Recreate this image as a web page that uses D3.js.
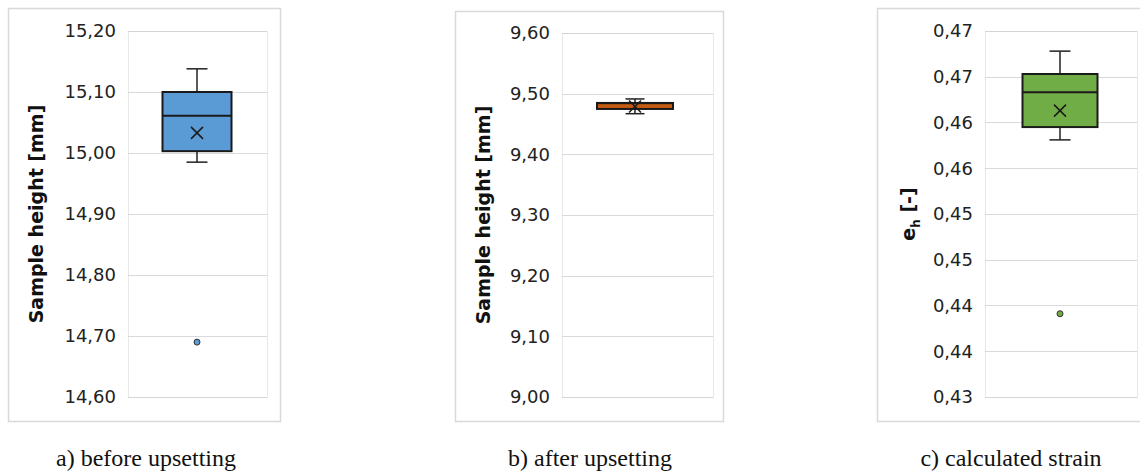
<!DOCTYPE html>
<html>
<head>
<meta charset="utf-8">
<script src="https://cdn.jsdelivr.net/npm/d3@7"></script>
<style>
  body { margin: 0; background: #fff; }
  svg { display: block; }
</style>
</head>
<body>
<div id="chart-area"></div>
<script>
// Data (one entry per panel)
let captions = ["a) before upsetting", "b) after upsetting", "c) calculated strain"];
let whiskerLow = [14.985, 9.467, 0.4581];
let q1 = [15.003, 9.4748, 0.4595];
let median = [15.061, 9.4835, 0.4633];
let q3 = [15.100, 9.4847, 0.4653];
let whiskerHigh = [15.138, 9.4913, 0.4678];
let means = [15.033, 9.479, 0.4613];
let outliers = [[14.690], [], [0.4391]];

let tickValues = [
  [14.6, 14.7, 14.8, 14.9, 15.0, 15.1, 15.2],
  [9.0, 9.1, 9.2, 9.3, 9.4, 9.5, 9.6],
  [0.43, 0.435, 0.44, 0.445, 0.45, 0.455, 0.46, 0.465, 0.47]
];
let tickLabels = [
  ["14,60", "14,70", "14,80", "14,90", "15,00", "15,10", "15,20"],
  ["9,00", "9,10", "9,20", "9,30", "9,40", "9,50", "9,60"],
  ["0,43", "0,44", "0,44", "0,45", "0,45", "0,46", "0,46", "0,47", "0,47"]
];
let colors = ["#5b9bd5", "#c55a11", "#70ad47"];

// Layout for each panel
let layout = [
  { frame: [8, 8, 272, 413], plot: [128, 31, 139, 366], cx: 197, bw: 69, cw: 21, title: "mm", tx: 36, ty: 214, cap: 146 },
  { frame: [455, 11, 268, 410], plot: [562, 33, 151, 364], cx: 635, bw: 76, cw: 19, title: "mm", tx: 483, ty: 215, cap: 590 },
  { frame: [877, 8, 280, 413], plot: [985, 31, 152, 366], cx: 1060, bw: 75, cw: 21, title: "eh", tx: 908, ty: 214, cap: 1011 }
];

let svg = d3
  .select("#chart-area")
  .append("svg")
  .attr("width", 1140)
  .attr("height", 473);

layout.forEach((L, i) => {
  let g = svg.append("g");

  // chart frame
  g.append("rect")
    .attr("x", L.frame[0] + 0.5)
    .attr("y", L.frame[1] + 0.5)
    .attr("width", L.frame[2])
    .attr("height", L.frame[3])
    .attr("fill", "#fff")
    .attr("stroke", "#d9d9d9")
    .attr("stroke-width", 1.5);

  let px = L.plot[0], py = L.plot[1], pw = L.plot[2], ph = L.plot[3];
  let tv = tickValues[i];

  let y = d3
    .scaleLinear()
    .domain([tv[0], tv[tv.length - 1]])
    .range([py + ph, py]);

  // gridlines
  g.selectAll(".grid")
    .data(tv)
    .enter()
    .append("line")
    .attr("x1", px)
    .attr("x2", px + pw)
    .attr("y1", d => Math.round(y(d)) + 0.5)
    .attr("y2", d => Math.round(y(d)) + 0.5)
    .attr("stroke", "#d9d9d9")
    .attr("stroke-width", 1.2);

  // plot area border (dotted)
  g.append("rect")
    .attr("x", px + 0.5)
    .attr("y", py + 0.5)
    .attr("width", pw)
    .attr("height", ph)
    .attr("fill", "none")
    .attr("stroke", "#d0d0d0")
    .attr("stroke-dasharray", "1,1");

  // y axis labels
  let yAxis = d3.axisLeft(y)
    .tickValues(tv)
    .tickSize(0)
    .tickPadding(12)
    .tickFormat((d, k) => tickLabels[i][k]);
  let ax = g.append("g")
    .attr("transform", "translate(" + px + ",0)")
    .call(yAxis);
  ax.select(".domain").remove();
  ax.selectAll("text")
    .style("font-family", "DejaVu Sans, sans-serif")
    .style("font-size", "18px")
    .attr("fill", "#222");

  // axis title
  let title = g.append("text")
    .attr("transform", "translate(" + L.tx + "," + L.ty + ") rotate(-90)")
    .attr("text-anchor", "middle")
    .attr("dy", "0.35em")
    .style("font-family", "DejaVu Sans, sans-serif")
    .style("font-weight", "bold")
    .style("font-size", "19px")
    .attr("fill", "#111");
  if (L.title == "mm") {
    title.text("Sample height [mm]");
  } else {
    title.append("tspan").text("e");
    title.append("tspan").attr("dy", "5").style("font-size", "12px").text("h");
    title.append("tspan").attr("dy", "-5").text(" [-]");
  }

  let cx = L.cx, bw = L.bw, capW = L.cw;

  // whiskers
  g.append("line")
    .attr("x1", cx).attr("x2", cx)
    .attr("y1", y(whiskerHigh[i])).attr("y2", y(q3[i]))
    .attr("stroke", "#222").attr("stroke-width", 1.5);
  g.append("line")
    .attr("x1", cx).attr("x2", cx)
    .attr("y1", y(q1[i])).attr("y2", y(whiskerLow[i]))
    .attr("stroke", "#222").attr("stroke-width", 1.5);
  [whiskerHigh[i], whiskerLow[i]].forEach(v => {
    g.append("line")
      .attr("x1", cx - capW / 2).attr("x2", cx + capW / 2)
      .attr("y1", y(v)).attr("y2", y(v))
      .attr("stroke", "#222").attr("stroke-width", 1.5);
  });

  // box
  g.append("rect")
    .attr("x", cx - bw / 2)
    .attr("y", y(q3[i]))
    .attr("width", bw)
    .attr("height", y(q1[i]) - y(q3[i]))
    .attr("fill", colors[i])
    .attr("stroke", "#1a1a1a")
    .attr("stroke-width", 2);

  // median
  g.append("line")
    .attr("x1", cx - bw / 2).attr("x2", cx + bw / 2)
    .attr("y1", y(median[i])).attr("y2", y(median[i]))
    .attr("stroke", "#1a1a1a").attr("stroke-width", i == 1 ? 1 : 2);

  // mean marker (x)
  let my = y(means[i]), s = 6;
  g.append("path")
    .attr("d", "M" + (cx - s) + "," + (my - s) + "L" + (cx + s) + "," + (my + s) +
      "M" + (cx - s) + "," + (my + s) + "L" + (cx + s) + "," + (my - s))
    .attr("stroke", "#1a1a1a")
    .attr("stroke-width", 1.5)
    .attr("fill", "none");

  // outliers
  g.selectAll(".outlier")
    .data(outliers[i])
    .enter()
    .append("circle")
    .attr("cx", cx)
    .attr("cy", d => y(d))
    .attr("r", 3)
    .attr("fill", colors[i])
    .attr("stroke", "#333")
    .attr("stroke-width", 1);

  // caption
  svg.append("text")
    .attr("x", L.cap)
    .attr("y", 466)
    .attr("text-anchor", "middle")
    .style("font-family", "Liberation Serif, serif")
    .style("font-size", "24px")
    .attr("fill", "#111")
    .text(captions[i]);
});
</script>
</body>
</html>
